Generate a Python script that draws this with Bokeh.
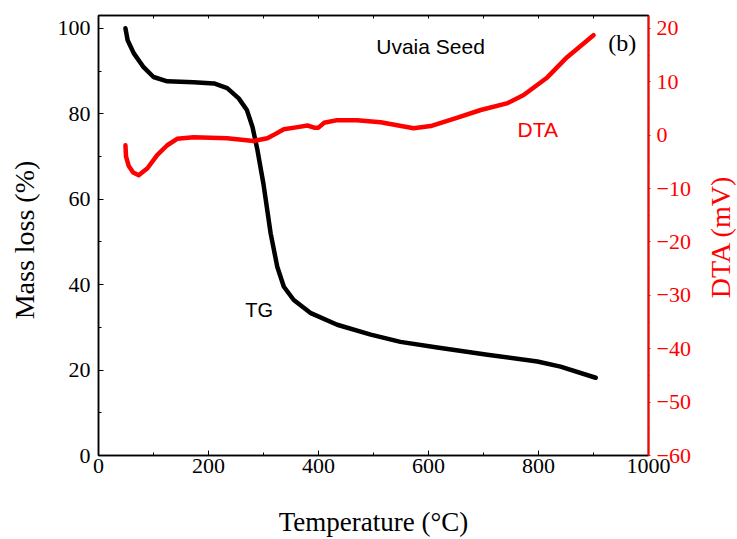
from bokeh.plotting import figure
from bokeh.models import Range1d, LinearAxis, SingleIntervalTicker, Label
from bokeh.layouts import row
from bokeh.core.properties import value
from bokeh.embed import file_html
from bokeh.resources import INLINE
import math

# TG curve (mass %, left axis)
tg_temp = [49, 53, 64, 82, 100, 125, 173, 210, 234, 255, 270, 280, 289, 300, 313, 325, 337, 355, 385, 434, 495, 549, 616, 707, 798, 840, 904]
tg_mass = [100, 97.2, 94.2, 90.9, 88.6, 87.6, 87.4, 87.1, 86.0, 83.6, 80.8, 76.9, 71.5, 63.5, 52.0, 44.2, 39.5, 36.4, 33.4, 30.6, 28.3, 26.6, 25.3, 23.6, 22.0, 20.8, 18.2]

# DTA curve (mV, right axis)
dta_temp = [49, 50, 55, 63, 73, 89, 107, 125, 143, 173, 234, 282, 307, 318, 337, 362, 380, 392, 400, 410, 434, 470, 513, 573, 604, 650, 695, 744, 773, 816, 852, 900]
dta_mv = [-1.9, -4.0, -5.8, -7.0, -7.5, -6.2, -3.7, -1.9, -0.7, -0.4, -0.6, -1.1, -0.6, 0.0, 1.1, 1.5, 1.8, 1.4, 1.4, 2.3, 2.8, 2.8, 2.4, 1.3, 1.7, 3.2, 4.7, 6.0, 7.5, 10.8, 14.6, 18.7]

serif = "Liberation Serif"
sans = "Liberation Sans"

p = figure(width=650, height=539, output_backend="svg", toolbar_location=None,
           x_range=Range1d(0, 1000), y_range=Range1d(0, 103))
p.min_border_left = 48
p.min_border_right = 52
p.min_border_top = 15
p.min_border_bottom = 83
p.grid.visible = False
p.outline_line_color = "black"
p.outline_line_width = 1.5
p.background_fill_color = "white"
p.border_fill_color = "white"

p.extra_y_ranges = {"dta": Range1d(-60, 22.4)}

xa = p.xaxis[0]
xa.ticker = SingleIntervalTicker(interval=200, num_minor_ticks=2)
xa.axis_label = "Temperature (°C)"
ya = p.yaxis[0]
ya.ticker = SingleIntervalTicker(interval=20, num_minor_ticks=2)
for ax in (xa, ya):
    ax.major_tick_in = 5
    ax.major_tick_out = 0
    ax.minor_tick_in = 3
    ax.minor_tick_out = 0
    ax.axis_line_width = 1.5
    ax.major_label_text_font = serif
    ax.major_label_text_font_size = "22px"
    ax.major_label_text_color = "black"
xa.axis_label_text_font = serif
xa.axis_label_text_font_size = "27px"
xa.axis_label_text_font_style = "normal"
xa.axis_label_text_color = "black"
xa.major_label_standoff = 3
xa.axis_label_standoff = 31
ya.major_label_standoff = 8

top = LinearAxis(ticker=SingleIntervalTicker(interval=100, num_minor_ticks=0),
                 major_tick_in=3, major_tick_out=0,
                 minor_tick_in=0, minor_tick_out=0, axis_line_width=1.5)
top.major_label_text_alpha = 0
top.major_label_text_font_size = "1px"
p.add_layout(top, "above")

ra = LinearAxis(y_range_name="dta",
                ticker=SingleIntervalTicker(interval=10, num_minor_ticks=2))
ra.axis_line_color = "red"
ra.axis_line_width = 2
ra.major_tick_line_color = "red"
ra.minor_tick_line_color = "red"
ra.major_tick_in = 0
ra.major_tick_out = 2
ra.minor_tick_in = 0
ra.minor_tick_out = 1
ra.major_label_text_color = "red"
ra.major_label_text_font = serif
ra.major_label_text_font_size = "22px"
ra.major_label_standoff = 6
p.add_layout(ra, "right")

p.line(tg_temp, tg_mass, line_color="black", line_width=4.5, line_cap="round", line_join="round")
p.line(dta_temp, dta_mv, y_range_name="dta", line_color="red", line_width=4.5,
       line_cap="round", line_join="round")

p.add_layout(Label(x=505, y=95.8, text="Uvaia Seed", text_font=sans, text_font_size="21px",
                   text_color="black", text_baseline="middle"))
p.add_layout(Label(x=927, y=96.5, text="(b)", text_font=serif, text_font_size="24px",
                   text_color="black", text_baseline="middle"))
p.add_layout(Label(x=762, y=76.2, text="DTA", text_font=sans, text_font_size="21px",
                   text_color="red", text_baseline="middle"))
p.add_layout(Label(x=267, y=34, text="TG", text_font=sans, text_font_size="20px",
                   text_color="black", text_baseline="middle"))


def title_strip(width, xc, yc, text, color, size):
    s = figure(width=width, height=539, output_backend="svg", toolbar_location=None,
               x_range=Range1d(0, width), y_range=Range1d(0, 539),
               x_axis_type=None, y_axis_type=None, min_border=0)
    s.outline_line_color = None
    s.grid.visible = False
    s.text(x=[xc], y=[yc], text=[text], angle=math.pi / 2,
           text_align="center", text_baseline="middle", text_color=color,
           text_font=value(serif), text_font_size=size)
    return s


left_strip = title_strip(50, 24, 264, "Mass loss (%)", "black", "28px")
right_strip = title_strip(37, 20, 268, "DTA (mV)", "red", "28px")

open("out.html", "w").write(file_html(row(left_strip, p, right_strip), INLINE))
